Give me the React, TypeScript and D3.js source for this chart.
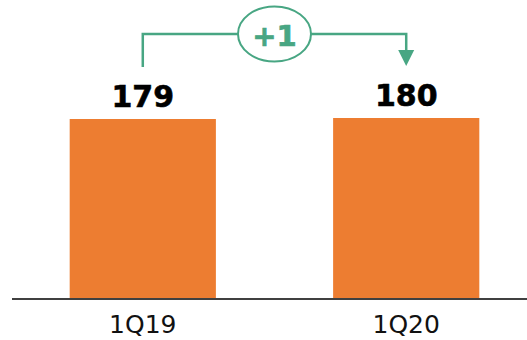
import React from "react";
import * as d3 from "d3";

// Quarterly totals
const categories: string[] = ["1Q19", "1Q20"];
const values: number[] = [179, 180];
const valueLabels: string[] = ["179", "180"];

const W = 527;
const H = 340;
const ORANGE = "#ED7D31";
const GREEN = "#48A683";
const FONT = "'DejaVu Sans', Verdana, sans-serif";

export default function App() {
  const x = d3
    .scaleBand<string>()
    .domain(categories)
    .range([17, 532])
    .paddingInner(0.445)
    .paddingOuter(0.2);

  const baseY = 298;
  const y = d3.scaleLinear().domain([0, 180]).range([baseY, 118]);

  const cx = (c: string) => (x(c) ?? 0) + x.bandwidth() / 2;

  // Change bracket between the two quarters
  const delta = values[1] - values[0];
  const deltaText = (delta >= 0 ? "+" : "") + d3.format("d")(delta);
  const bracketY = 34;
  const x0 = cx(categories[0]);
  const x1 = cx(categories[1]);
  const startY = y(values[0]) - 52;
  const tipY = y(values[1]) - 52;
  const headH = 16;
  const headW = 8;
  const ellCx = (x0 + x1) / 2;

  return (
    <svg
      width={W}
      height={H}
      style={{ position: "absolute", left: 0, top: 0, background: "#fff" }}
      fontFamily={FONT}
    >
      {categories.map((c, i) => (
        <g key={c}>
          <rect
            x={x(c)}
            y={y(values[i])}
            width={x.bandwidth()}
            height={baseY - y(values[i])}
            fill={ORANGE}
          />
          <text
            x={cx(c)}
            y={y(values[i]) - 12}
            textAnchor="middle"
            fontSize={30}
            fontWeight="bold"
            fill="#000"
            stroke="#000"
            strokeWidth={0.6}
          >
            {valueLabels[i]}
          </text>
          <text
            x={cx(c)}
            y={333}
            textAnchor="middle"
            fontSize={25}
            fill="#111"
          >
            {c}
          </text>
        </g>
      ))}

      {/* baseline */}
      <line x1={12} x2={W} y1={baseY + 1} y2={baseY + 1} stroke="#000" strokeWidth={1.5} />

      {/* bracket with arrow */}
      <path
        d={`M${x0},${startY} V${bracketY} H${x1} V${tipY - headH}`}
        fill="none"
        stroke={GREEN}
        strokeWidth={2.5}
      />
      <path
        d={`M${x1 - headW},${tipY - headH} L${x1 + headW},${tipY - headH} L${x1},${tipY} Z`}
        fill={GREEN}
      />
      <ellipse
        cx={ellCx}
        cy={bracketY}
        rx={36.5}
        ry={27.5}
        fill="#fff"
        stroke={GREEN}
        strokeWidth={2}
      />
      <text
        x={ellCx}
        y={46}
        textAnchor="middle"
        fontSize={29}
        fontWeight="bold"
        fill={GREEN}
        stroke={GREEN}
        strokeWidth={0.7}
      >
        {deltaText}
      </text>
    </svg>
  );
}
